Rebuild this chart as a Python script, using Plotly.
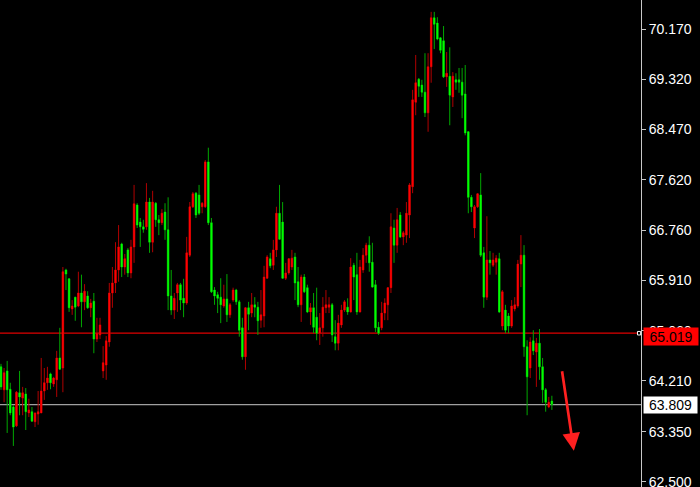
import plotly.graph_objects as go

opens = [64.45, 64.06, 64.38, 64.07, 63.77, 63.45, 64.01, 63.92, 63.99, 63.67,
         63.69, 63.52, 63.65, 63.67, 64.04, 64.18, 64.33, 64.16, 64.23, 64.60,
         64.43, 66.09, 65.94, 65.43, 65.63, 65.48, 65.70, 65.55, 65.65, 65.45,
         65.56, 64.92, 64.99, 64.38, 64.48, 64.87, 65.70, 65.87, 66.09, 66.53,
         66.14, 66.43, 66.04, 66.48, 67.19, 66.90, 66.82, 66.82, 67.24, 66.56,
         67.22, 66.94, 66.89, 67.07, 66.77, 65.65, 65.41, 65.70, 65.84, 65.61,
         65.53, 66.34, 67.16, 67.39, 67.36, 67.16, 67.16, 67.92, 66.89, 65.75,
         65.67, 65.63, 65.48, 65.60, 65.33, 65.58, 65.75, 65.55, 65.11, 64.62,
         65.45, 65.36, 65.50, 65.46, 65.24, 65.31, 65.95, 66.28, 66.17, 66.43,
         67.05, 66.90, 65.95, 66.04, 66.14, 66.31, 65.89, 65.50, 65.97, 65.79,
         65.38, 65.45, 65.29, 65.02, 65.11, 65.45, 65.46, 65.50, 64.96, 64.85,
         65.16, 65.41, 65.46, 65.38, 66.17, 66.01, 65.38, 66.09, 66.34, 66.51,
         66.22, 65.84, 65.12, 65.11, 65.36, 65.50, 65.79, 66.80, 66.51, 67.02,
         66.65, 66.68, 67.02, 67.50, 68.93, 69.32, 69.22, 69.10, 68.75, 69.53,
         70.36, 70.27, 70.02, 69.97, 69.36, 69.37, 69.02, 69.31, 69.31, 69.27,
         69.07, 68.43, 67.32, 66.80, 67.16, 67.36, 66.38, 65.63, 66.26, 66.17,
         66.22, 66.28, 65.14, 65.41, 65.31, 65.14, 65.43, 65.48, 66.19, 66.34,
         64.79, 64.43, 64.89, 64.70, 64.85, 64.45, 64.06, 63.77, 63.87]

highs = [64.50, 64.43, 64.55, 64.18, 63.80, 64.04, 64.38, 64.11, 64.09, 63.91,
         63.77, 63.67, 64.04, 64.60, 64.43, 64.45, 64.35, 64.28, 64.72, 65.11,
         66.14, 66.11, 65.95, 65.58, 65.63, 66.06, 66.01, 65.85, 65.73, 65.60,
         65.70, 65.28, 65.28, 64.80, 64.97, 65.87, 66.14, 66.56, 66.85, 66.55,
         66.36, 66.46, 66.60, 67.53, 67.22, 66.97, 66.94, 67.56, 67.31, 67.43,
         67.24, 67.02, 67.12, 67.22, 67.32, 66.09, 65.70, 65.87, 65.87, 65.94,
         66.65, 67.24, 67.41, 67.41, 67.53, 67.24, 67.95, 68.16, 66.97, 65.80,
         65.72, 65.95, 65.84, 66.02, 65.53, 65.79, 65.77, 65.58, 65.28, 65.46,
         65.55, 65.70, 65.63, 65.55, 65.75, 66.16, 66.34, 66.38, 66.60, 67.16,
         67.53, 67.24, 66.21, 66.29, 66.43, 66.38, 66.14, 66.01, 66.02, 65.84,
         65.53, 65.70, 65.79, 65.36, 65.63, 65.75, 65.63, 65.53, 65.24, 65.33,
         65.50, 65.58, 65.61, 66.29, 66.21, 66.38, 66.26, 66.46, 66.55, 66.66,
         66.55, 65.92, 65.21, 65.55, 65.61, 65.80, 67.05, 66.94, 67.14, 67.07,
         66.75, 67.24, 67.56, 69.14, 69.73, 69.34, 69.31, 69.76, 69.76, 70.46,
         70.46, 70.37, 70.03, 70.22, 69.78, 69.86, 69.44, 69.42, 69.51, 69.51,
         69.56, 68.44, 67.36, 67.19, 67.39, 67.73, 66.48, 67.00, 66.41, 66.38,
         66.34, 66.38, 65.75, 65.50, 65.36, 65.58, 65.63, 66.26, 66.68, 66.51,
         64.90, 64.95, 65.07, 64.94, 65.09, 64.60, 64.09, 63.94, 63.96]

lows = [64.06, 63.85, 63.33, 63.63, 63.11, 63.43, 63.63, 63.63, 63.38, 63.60,
        63.52, 63.43, 63.47, 63.67, 63.89, 64.06, 64.07, 64.11, 63.94, 64.40,
        64.02, 65.75, 65.38, 65.33, 65.23, 65.46, 65.12, 65.41, 65.43, 65.29,
        64.68, 64.87, 64.92, 64.26, 64.23, 64.79, 65.45, 65.70, 65.89, 65.97,
        66.01, 65.97, 65.95, 66.21, 66.80, 66.48, 66.72, 66.77, 66.38, 66.39,
        66.82, 66.68, 66.85, 66.60, 65.41, 65.33, 65.26, 65.38, 65.41, 65.29,
        65.50, 66.31, 67.14, 66.97, 67.02, 67.05, 67.14, 66.85, 65.70, 65.50,
        65.36, 65.19, 65.45, 65.21, 65.28, 65.55, 65.50, 64.96, 64.57, 64.40,
        65.07, 65.29, 65.29, 64.99, 65.11, 65.12, 65.94, 66.12, 66.09, 66.31,
        66.60, 65.94, 65.92, 66.01, 66.09, 65.58, 65.46, 65.21, 65.70, 65.36,
        65.16, 65.02, 64.90, 64.82, 64.96, 65.36, 65.36, 64.87, 64.73, 64.73,
        65.11, 65.38, 65.33, 65.37, 65.58, 65.33, 65.37, 66.04, 66.21, 66.06,
        65.79, 65.04, 64.99, 65.07, 65.24, 65.24, 65.70, 66.21, 66.38, 66.63,
        66.51, 66.55, 66.63, 67.39, 68.71, 69.02, 69.02, 68.68, 68.43, 69.26,
        69.83, 69.98, 69.76, 69.34, 69.19, 68.54, 68.85, 69.14, 69.09, 68.66,
        68.37, 67.05, 67.07, 66.63, 67.14, 66.31, 65.45, 65.58, 66.01, 66.14,
        66.01, 65.36, 65.07, 65.02, 65.02, 65.11, 65.39, 65.45, 65.80, 64.62,
        63.63, 64.26, 64.65, 64.11, 64.23, 63.84, 63.69, 63.75, 63.72]

closes = [64.11, 64.35, 64.06, 63.67, 63.43, 64.02, 63.94, 64.01, 63.69, 63.72,
          63.53, 63.67, 63.69, 64.04, 64.18, 64.26, 64.18, 64.26, 64.60, 64.41,
          66.06, 66.02, 65.45, 65.48, 65.46, 65.70, 65.55, 65.73, 65.45, 65.53,
          64.92, 65.02, 65.16, 64.52, 64.89, 65.70, 65.87, 66.09, 66.48, 66.14,
          66.28, 66.04, 66.48, 67.21, 66.85, 66.82, 66.78, 67.24, 66.56, 67.24,
          66.94, 66.89, 67.05, 66.77, 65.65, 65.41, 65.61, 65.84, 65.58, 65.53,
          66.38, 67.16, 67.38, 67.02, 67.05, 67.22, 67.92, 66.89, 65.72, 65.65,
          65.61, 65.50, 65.60, 65.33, 65.50, 65.75, 65.55, 65.07, 64.62, 65.45,
          65.34, 65.50, 65.46, 65.23, 65.33, 65.97, 66.31, 66.16, 66.43, 67.05,
          66.61, 65.95, 66.04, 66.28, 66.29, 65.87, 65.50, 65.97, 65.72, 65.38,
          65.45, 65.12, 65.02, 65.11, 65.46, 65.50, 65.50, 64.99, 64.85, 65.19,
          65.41, 65.55, 65.38, 66.14, 65.97, 65.38, 66.14, 66.34, 66.51, 66.21,
          65.80, 65.11, 65.02, 65.36, 65.53, 65.79, 66.82, 66.51, 66.94, 66.65,
          66.72, 67.05, 67.53, 68.97, 69.26, 69.20, 69.10, 68.75, 69.53, 70.36,
          70.25, 70.00, 69.81, 69.36, 69.42, 69.05, 69.37, 69.27, 69.27, 69.05,
          68.41, 67.32, 67.16, 67.16, 67.38, 66.34, 65.63, 66.26, 66.21, 66.26,
          66.29, 65.38, 65.72, 65.07, 65.14, 65.48, 65.50, 66.19, 66.34, 64.79,
          64.28, 64.87, 64.72, 64.85, 64.45, 64.06, 63.85, 63.85, 63.81]

bar_index = list(range(len(closes)))

tick_values = [62.50, 63.35, 64.21, 65.06, 65.91, 66.76, 67.62, 68.47, 69.32, 70.17]
tick_labels = ["62.500", "63.350", "64.210", "65.060", "65.910",
               "66.760", "67.620", "68.470", "69.320", "70.170"]

red_level = 65.019
red_level_label = "65.019"
last_price = 63.809
last_price_label = "63.809"

arrow_tip_index = 185.1
arrow_tip_price = 63.03

UP_BODY, DOWN_BODY = "#ff0000", "#00ff00"
UP_WICK, DOWN_WICK = "#b00000", "#00a800"

fig = go.Figure()
# wicks (dimmer)
fig.add_trace(go.Candlestick(
    x=bar_index, open=opens, high=highs, low=lows, close=closes,
    increasing=dict(line=dict(color=UP_WICK, width=1), fillcolor=UP_WICK),
    decreasing=dict(line=dict(color=DOWN_WICK, width=1), fillcolor=DOWN_WICK),
    hoverinfo="skip", showlegend=False,
))
# bright bodies
fig.add_trace(go.Candlestick(
    x=bar_index, open=opens, high=highs, low=lows, close=closes,
    increasing=dict(line=dict(color=UP_BODY, width=0), fillcolor=UP_BODY),
    decreasing=dict(line=dict(color=DOWN_BODY, width=0), fillcolor=DOWN_BODY),
    hoverinfo="skip", showlegend=False,
))

fig.add_shape(type="line", xref="paper", yref="y", x0=0, x1=1,
              y0=red_level, y1=red_level, line=dict(color="#e00000", width=1.3), layer="below")
fig.add_shape(type="line", xref="paper", yref="y", x0=0, x1=1,
              y0=last_price, y1=last_price, line=dict(color="#a0a0a0", width=1.2), layer="below")
fig.add_shape(type="rect", xref="paper", yref="y", x0=0.9945, x1=0.9995,
              y0=red_level - 0.03, y1=red_level + 0.03,
              line=dict(color="#ffffff", width=1), fillcolor="#000000")

fig.add_annotation(xref="paper", yref="y", x=1, y=red_level, xanchor="left",
                   yanchor="middle", xshift=2, yshift=-3, text=red_level_label,
                   showarrow=False, bgcolor="#ff0000", borderpad=0, width=54, height=17,
                   font=dict(family="Liberation Sans", size=14, color="#000000"))
fig.add_annotation(xref="paper", yref="y", x=1, y=last_price, xanchor="left",
                   yanchor="middle", xshift=2, yshift=0, text=last_price_label,
                   showarrow=False, bgcolor="#ffffff", borderpad=0, width=53, height=16,
                   font=dict(family="Liberation Sans", size=14, color="#000000"))
fig.add_annotation(x=arrow_tip_index, y=arrow_tip_price, xref="x", yref="y",
                   ax=-12, ay=-81, axref="pixel", ayref="pixel", text="",
                   showarrow=True, arrowhead=2, arrowsize=1.3, arrowwidth=2.7,
                   arrowcolor="#ff2020")

fig.update_layout(
    width=700, height=487,
    margin=dict(l=0, r=59, t=0, b=0),
    paper_bgcolor="#000000", plot_bgcolor="#000000",
    showlegend=False,
    xaxis=dict(range=[-0.32, 206.8], visible=False, rangeslider=dict(visible=False),
               showgrid=False, zeroline=False),
    yaxis=dict(range=[62.415, 70.661], side="right", showgrid=False, zeroline=False,
               showline=True, linecolor="#c8c8c8", linewidth=1,
               ticks="outside", ticklen=4, tickcolor="#c8c8c8",
               tickvals=tick_values, ticktext=tick_labels, automargin=False,
               ticklabeloverflow="allow",
               tickfont=dict(family="Liberation Sans", size=14, color="#ffffff")),
)

fig.write_html(
    "out.html",
    config={"displayModeBar": False},
    post_script="document.body.style.margin='0';document.body.style.background='#000';",
)
